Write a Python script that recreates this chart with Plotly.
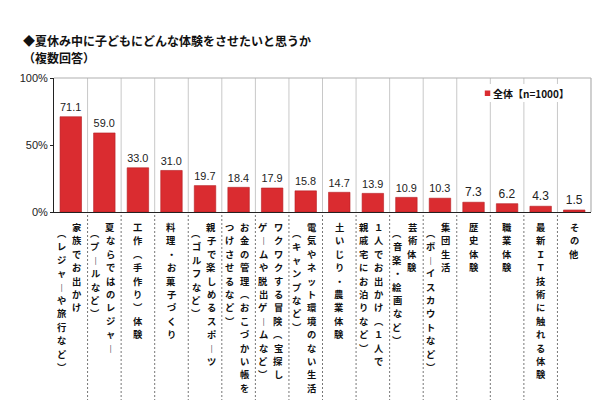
import plotly.graph_objects as go

title_text = "◆夏休み中に子どもにどんな体験をさせたいと思うか"
subtitle_text = "（複数回答）"
series_name = "全体【n=1000】"

category_lines = [
    ["家族でお出かけ", "（レジャーや旅行など）"],
    ["夏ならではのレジャー", "（プールなど）"],
    ["工作（手作り）体験"],
    ["料理・お菓子づくり"],
    ["親子で楽しめるスポーツ", "（ゴルフなど）"],
    ["お金の管理（おこづかい帳を", "つけさせるなど）"],
    ["ワクワクする冒険（宝探し", "ゲームや脱出ゲームなど）"],
    ["電気やネット環境のない生活", "（キャンプなど）"],
    ["土いじり・農業体験"],
    ["１人でお出かけ（１人で", "親戚宅にお泊りなど）"],
    ["芸術体験", "（音楽・絵画など）"],
    ["集団生活", "（ボーイスカウトなど）"],
    ["歴史体験"],
    ["職業体験"],
    ["最新ＩＴ技術に触れる体験"],
    ["その他"],
]
values = [71.1, 59.0, 33.0, 31.0, 19.7, 18.4, 17.9, 15.8, 14.7, 13.9, 10.9, 10.3, 7.3, 6.2, 4.3, 1.5]
ytick_vals = [0, 50, 100]
ytick_text = ["0%", "50%", "100%"]

RED = "#da2c30"
JP = "Noto Sans CJK JP"
NUM = "Liberation Sans, Arial, sans-serif"

W, H = 600, 414
ML, MR, MT, MB = 42, 17, 70, 210
PW = W - ML - MR
PH = H - MT - MB
n = len(values)
xs = list(range(n))

VERT = {"（": "︵", "）": "︶", "ー": "︱"}
LABEL_TOP = 219      # pixel centre of first character
PITCH = 13.4         # vertical character pitch (px)
LABEL_FONT = 9.3


def px_x(p):
    return (p - ML) / PW


def px_y(p):
    return (MT + PH - p) / PH


fig = go.Figure()
fig.add_trace(go.Bar(
    x=xs, y=values, width=0.64, name=series_name,
    marker=dict(color=RED, line=dict(color="#b51f24", width=0.6)),
    text=[f"{v:.1f}" for v in values], textposition="outside",
    textfont=dict(family=NUM, size=12, color="#222"),
    cliponaxis=False, showlegend=False,
))

shapes = []
for i in range(n - 1):
    xp = (i + 1) / n
    shapes.append(dict(type="line", xref="paper", yref="paper", x0=xp, x1=xp, y0=0, y1=1,
                       line=dict(color="#c8c8c8", width=1), layer="below"))
    shapes.append(dict(type="line", xref="paper", yref="paper", x0=xp, x1=xp,
                       y0=px_y(207), y1=px_y(392),
                       line=dict(color="#777", width=1, dash="2px,2px"), layer="below"))
# legend box (white background hiding gridlines) and marker
shapes.append(dict(type="rect", xref="paper", yref="paper",
                   x0=px_x(470), x1=px_x(560), y0=px_y(76), y1=px_y(94),
                   fillcolor="white", line=dict(width=0), layer="below"))
shapes.append(dict(type="rect", xref="paper", yref="paper",
                   x0=px_x(476), x1=px_x(481.5), y0=px_y(82.5), y1=px_y(88),
                   fillcolor=RED, line=dict(width=0)))
# frame top/right
shapes.append(dict(type="line", xref="paper", yref="paper", x0=0, x1=1, y0=1, y1=1,
                   line=dict(color="#b0b0b0", width=1.2)))
shapes.append(dict(type="line", xref="paper", yref="paper", x0=1, x1=1, y0=0, y1=1,
                   line=dict(color="#b0b0b0", width=1.2)))

annotations = []
for i, cols in enumerate(category_lines):
    k = len(cols)
    for j, col in enumerate(cols):
        shift = 0 if k == 1 else 6 - 15 * j
        start = LABEL_TOP + (6 if (j > 0 and col.startswith("（")) else 0)
        for m, ch in enumerate(col):
            annotations.append(dict(
                x=i, xref="x", y=px_y(start + m * PITCH), yref="paper",
                xanchor="center", yanchor="middle", xshift=shift,
                text=VERT.get(ch, ch), showarrow=False, borderpad=0,
                font=dict(family=JP, size=LABEL_FONT, color="#111", weight="bold"),
            ))
annotations.append(dict(
    x=px_x(9), xref="paper", y=px_y(32), yref="paper",
    xanchor="left", yanchor="middle", text=title_text, showarrow=False,
    font=dict(family=JP, size=12, color="#111", weight="bold"),
))
annotations.append(dict(
    x=px_x(9), xref="paper", y=px_y(49), yref="paper",
    xanchor="left", yanchor="middle", text=subtitle_text, showarrow=False,
    font=dict(family=JP, size=12, color="#111", weight="bold"),
))
annotations.append(dict(
    x=px_x(482), xref="paper", y=px_y(85), yref="paper",
    xanchor="left", yanchor="middle", text=series_name, showarrow=False,
    font=dict(family=JP, size=10, color="#111", weight="bold"),
))

fig.update_layout(
    width=W, height=H,
    margin=dict(l=ML, r=MR, t=MT, b=MB, pad=0),
    paper_bgcolor="white", plot_bgcolor="white",
    xaxis=dict(range=[-0.5, n - 0.5], showticklabels=False, showgrid=False, zeroline=False,
               showline=True, linecolor="#222", linewidth=1, ticks=""),
    yaxis=dict(range=[0, 100], tickvals=ytick_vals, ticktext=ytick_text, showgrid=False,
               zeroline=False, showline=True, linecolor="#222", linewidth=1,
               ticks="outside", ticklen=3, tickcolor="#222",
               tickfont=dict(family=NUM, size=11, color="#222")),
    showlegend=False,
    shapes=shapes,
    annotations=annotations,
)

fig.write_html("out.html")
